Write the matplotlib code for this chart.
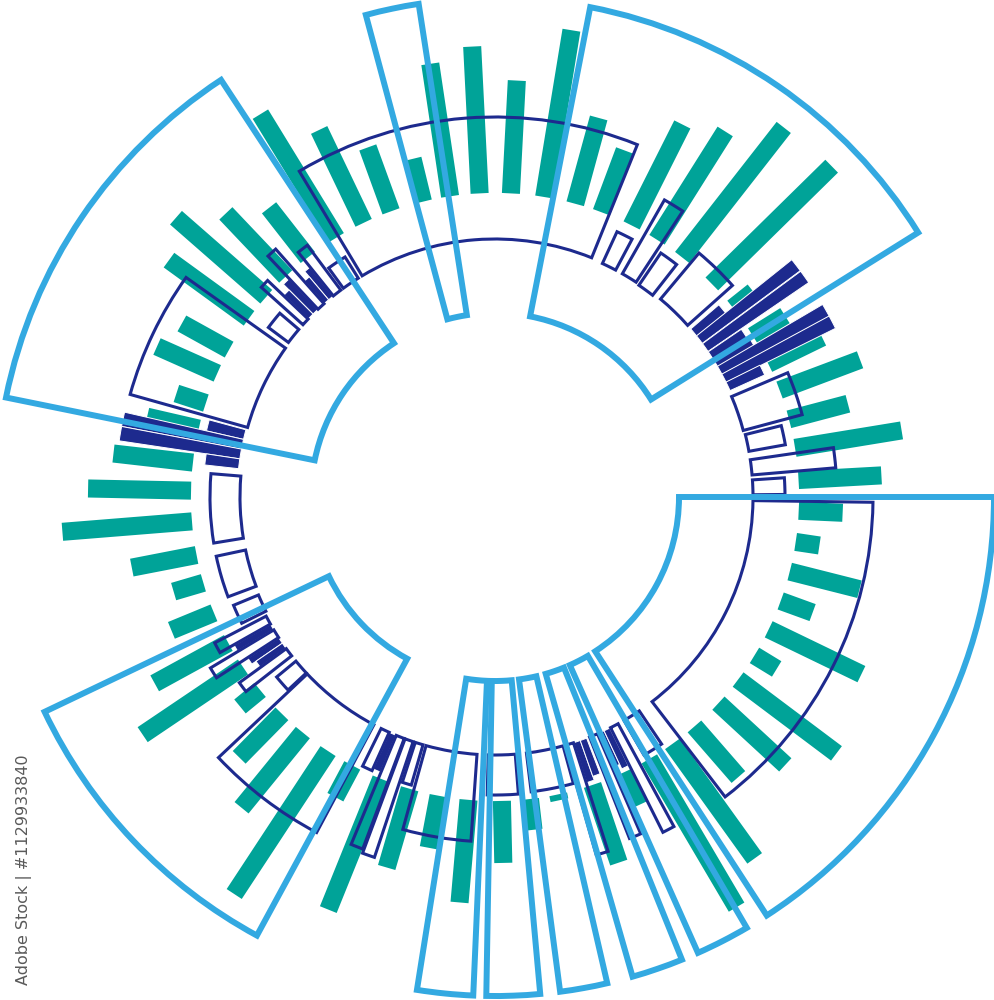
"""
Radial bar ornament: teal spokes, navy boxes and bars, light blue wedge frames.
Angles in degrees (0 = east, counter-clockwise), radii in pixel-like units.
"""

import matplotlib

matplotlib.use("Agg")
import matplotlib.pyplot as plt
import numpy as np

TEAL = "#00a398"
SKY = "#33a9e1"
NAVY = "#1d2a8e"

# teal spokes: angle and outer radius (all start at teal_inner)
teal_angle = [
    178.8, 184.6, 191, 196.4, 202.4, 208.7, 214, 219.4, 225.5, 230.8,
    236.7, 242, 248, 253.7, 259.3, 265, 271.3, 276.6, 282, 288.7,
    295, 300.5, 305.7, 311, 317.3, 323.1, 328.6, 334.2, 340, 345.8,
    351.5, 357.4, 3.2, 9.3, 14.8, 20.6, 26, 32, 38.5, 44.5,
    52, 57.8, 63.3, 69.5, 74.7, 80.7, 87, 92.9, 98.5, 103.7,
    110, 115.6, 121.5, 128, 133.5, 138.8, 144, 151, 156, 162,
    167, 173.5,
]
teal_outer = [
    407, 434, 370, 335, 350, 388, 425, 330, 365, 401,
    475, 340, 445, 386, 357, 407, 366, 335, 310, 386,
    340, 476, 445, 371, 395, 427, 330, 407, 338, 376,
    328, 348, 387, 412, 365, 390, 364, 342, 330, 472,
    469, 432, 417, 370, 393, 473, 417, 451, 438, 348,
    372, 407, 449, 367, 391, 424, 403, 358, 370, 335,
    357, 384,
]
teal_inner = 304

# navy filled bars: start angle, end angle, outer radius (inner = navy_inner)
navy_bar_start = [
    38.55, 36.55, 34.35, 32.15, 30.15, 28.35, 26.35, 24.35,
    164.9, 167.1, 169.3, 171.5,
    128.9, 130.15, 133.4, 134.85,
    209.6, 213.1, 214.5,
    245.9,
    287.8, 289.3, 293.6, 295.0,
]
navy_bar_end = [
    40.65, 38.65, 36.45, 34.25, 32.25, 30.45, 28.45, 26.45,
    167.1, 169.3, 171.5, 173.7,
    130.15, 131.4, 134.85, 136.3,
    210.9, 214.5, 215.9,
    247.4,
    289.3, 290.8, 295.0, 296.4,
]
navy_bar_outer = [
    295, 380, 380, 298, 300, 380, 380, 296,
    296, 380, 380, 292,
    295, 288, 300, 292,
    300, 295, 290,
    298,
    300, 296, 295, 300,
]
navy_inner = 258

# navy outlined boxes: start angle, end angle, inner radius, outer radius
box_start = [
    68, 144.6, 223.3, 307.5,
    41.7, 52, 56.7, 62, 15, 10.2, 4.9, 0.5,
    122, 126.7, 131.5, 136.4, 139.5,
    175.3, 192, 202.5, 207.5, 211, 216, 219.5,
    243.8, 247.5, 249.6, 252, 254.5, 268.5, 277, 285.8, 291.5, 296.6, 300,
]
box_end = [
    121, 164.3, 242, 359.2,
    50.1, 55.8, 60.3, 65.3, 23, 14, 8.3, 3.8,
    126, 128.8, 133.3, 138.1, 143.2,
    189.3, 200.5, 206.5, 209.5, 213, 218, 223,
    245.8, 249.4, 251.5, 253.8, 266, 274.5, 285.3, 287.7, 293.4, 298.5, 304,
]
box_inner = [
    258, 257, 258, 258,
    258, 256, 257, 257, 257, 258, 258, 258,
    258, 258, 258, 258, 258,
    255, 255, 256, 258, 258, 258, 258,
    258, 258, 258, 258, 258, 258, 258, 258, 258, 258, 258,
]
box_outer = [
    380, 379, 380, 378,
    318, 295, 342, 292, 318, 295, 342, 290,
    283, 314, 331, 314, 283,
    285, 285, 283, 316, 332, 316, 283,
    300, 376, 380, 300, 345, 298, 297, 372, 367, 375, 298,
]

# light blue wedge frames: start and end angle
wedge_start = [303, 32, 98.8, 123.3, 205.5, 261, 269, 277.5, 286, 294]
wedge_end = [360, 79, 105, 168.5, 241.5, 267.5, 275.2, 283, 292, 300.3]
wedge_inner = 184
wedge_outer = 499


def span(start, end):
    start = np.asarray(start, dtype=float)
    end = np.asarray(end, dtype=float)
    return np.deg2rad(start), np.deg2rad(end - start)


figure = plt.figure(figsize=(9.95, 10), dpi=100)
# centre of the ring sits at pixel (495, 497) from the top-left, r max = 510 px
axis = figure.add_axes(
    [(495 - 510) / 995, (1000 - 497 - 510) / 1000, 1020 / 995, 1020 / 1000],
    projection="polar",
)
axis.set_ylim(0, 510)
axis.set_axis_off()

axis.vlines(
    np.deg2rad(teal_angle),
    teal_inner,
    teal_outer,
    colors=TEAL,
    linewidth=13,
    capstyle="butt",
    zorder=1,
)

theta, width = span(navy_bar_start, navy_bar_end)
axis.bar(
    theta,
    np.asarray(navy_bar_outer) - navy_inner,
    width=width,
    bottom=navy_inner,
    align="edge",
    color=NAVY,
    edgecolor="white",
    linewidth=0.7,
    zorder=2,
)

theta, width = span(box_start, box_end)
axis.bar(
    theta,
    np.asarray(box_outer) - np.asarray(box_inner),
    width=width,
    bottom=box_inner,
    align="edge",
    fill=False,
    edgecolor=NAVY,
    linewidth=2.2,
    zorder=3,
)

theta, width = span(wedge_start, wedge_end)
axis.bar(
    theta,
    wedge_outer - wedge_inner,
    width=width,
    bottom=wedge_inner,
    align="edge",
    fill=False,
    edgecolor=SKY,
    linewidth=4.3,
    zorder=4,
)

figure.text(
    24 / 995,
    1 - 870 / 1000,
    "Adobe Stock | #1129933840",
    rotation=90,
    ha="center",
    va="center",
    color="#5a5a5a",
    fontsize=11.5,
)

figure.savefig("out.png", dpi=100)
plt.close(figure)
